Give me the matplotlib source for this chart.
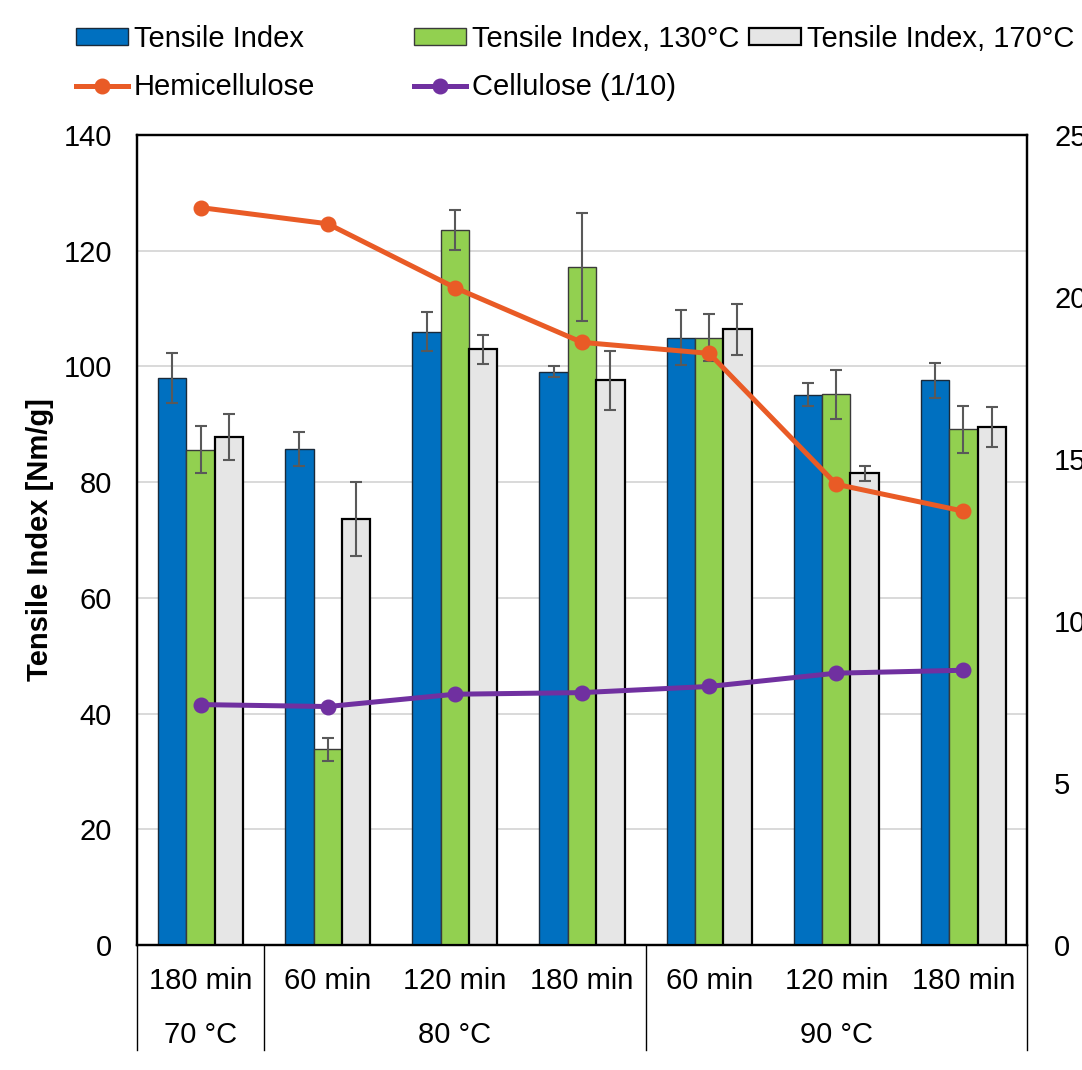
import numpy as np
import matplotlib
matplotlib.use("Agg")
import matplotlib.pyplot as plt
from matplotlib.lines import Line2D
from matplotlib.patches import Patch

plt.rcParams['font.family'] = ['Liberation Sans', 'DejaVu Sans']

# Data
times = ["180 min", "60 min", "120 min", "180 min", "60 min", "120 min", "180 min"]
temps = ["70 °C", "80 °C", "90 °C"]
temp_spans = [(0, 1), (1, 4), (4, 7)]   # category index ranges for each temperature

tensile = [98.0, 85.7, 106.0, 99.1, 105.0, 95.1, 97.6]
tensile_err = [4.3, 2.9, 3.4, 1.0, 4.8, 2.0, 3.0]
tensile_130 = [85.6, 33.8, 123.6, 117.2, 105.0, 95.2, 89.1]
tensile_130_err = [4.1, 2.0, 3.5, 9.3, 4.1, 4.2, 4.1]
tensile_170 = [87.8, 73.6, 103.0, 97.6, 106.4, 81.5, 89.5]
tensile_170_err = [4.0, 6.4, 2.5, 5.1, 4.4, 1.3, 3.5]

hemicellulose = [22.76, 22.26, 20.29, 18.60, 18.26, 14.22, 13.39]
cellulose = [7.42, 7.36, 7.74, 7.79, 7.98, 8.39, 8.48]

BLUE = "#0070C0"
GREEN = "#92D050"
GRAY = "#E6E6E6"
ORANGE = "#E95B26"
PURPLE = "#7030A0"
ERR = "#595959"
FS = 21

fig = plt.figure(figsize=(10.82, 10.70), dpi=100)
ax = fig.add_axes([137/1082, 125/1070, 890/1082, 810/1070])
ax2 = ax.twinx()

x = np.arange(len(times))
w = 0.223
errkw = dict(ecolor=ERR, elinewidth=1.5, capsize=4.5, capthick=1.5)

ax.bar(x - w, tensile, w, color=BLUE, edgecolor="#1a2a3a", linewidth=1.0,
       yerr=tensile_err, error_kw=errkw, zorder=3)
ax.bar(x, tensile_130, w, color=GREEN, edgecolor="#3a3a3a", linewidth=1.0,
       yerr=tensile_130_err, error_kw=errkw, zorder=3)
ax.bar(x + w, tensile_170, w, color=GRAY, edgecolor="black", linewidth=1.6,
       yerr=tensile_170_err, error_kw=errkw, zorder=3)

ax2.plot(x, hemicellulose, color=ORANGE, lw=3.6, marker="o", ms=10.5, zorder=4)
ax2.plot(x, cellulose, color=PURPLE, lw=3.6, marker="o", ms=10.5, zorder=4)

ax.set_xlim(-0.5, len(times) - 0.5)
ax.set_ylim(0, 140)
ax.set_yticks(np.arange(0, 141, 20))
ax2.set_ylim(0, 25)
ax2.set_yticks(np.arange(0, 26, 5))

ax.grid(axis="y", color="#d9d9d9", lw=1.4, zorder=0)
ax.set_axisbelow(True)
ax.set_xticks([])
ax.tick_params(axis="y", length=0, labelsize=FS, pad=18)
ax2.tick_params(axis="y", length=0, labelsize=FS, pad=19.5)
for a in (ax, ax2):
    for s in a.spines.values():
        s.set_linewidth(1.6)
        s.set_color("black")

ax.set_ylabel("Tensile Index [Nm/g]", fontsize=FS, fontweight="bold")
ax.yaxis.set_label_coords(-0.093, 0.5)

# Two-level category axis
trans = ax.get_xaxis_transform()
for i, t in enumerate(times):
    ax.text(i, -0.044, t, transform=trans, ha="center", va="center",
            fontsize=FS, clip_on=False)
for lab, (a, b) in zip(temps, temp_spans):
    ax.text((a + b - 1) / 2, -0.111, lab, transform=trans, ha="center",
            va="center", fontsize=FS, clip_on=False)
for b in [0, 1, 4, 7]:
    ax.plot([b - 0.5, b - 0.5], [0, -0.13], transform=trans, color="black",
            lw=1.0, clip_on=False)

# Legend, laid out in three columns like the reference
h_ti = Patch(facecolor=BLUE, edgecolor="#1a2a3a", lw=1.0)
h_130 = Patch(facecolor=GREEN, edgecolor="#3a3a3a", lw=1.0)
h_170 = Patch(facecolor=GRAY, edgecolor="black", lw=1.6)
h_hemi = Line2D([], [], color=ORANGE, lw=3.6, marker="o", ms=10.5)
h_cell = Line2D([], [], color=PURPLE, lw=3.6, marker="o", ms=10.5)

legkw = dict(loc="upper left", frameon=False, fontsize=FS, handlelength=1.78,
             handleheight=0.5, handletextpad=0.2, labelspacing=0.69,
             borderaxespad=0, borderpad=0)
cols = [([h_ti, h_hemi], ["Tensile Index", "Hemicellulose"], 76),
        ([h_130, h_cell], ["Tensile Index, 130°C", "Cellulose (1/10)"], 414),
        ([h_170], ["Tensile Index, 170°C"], 749)]
for hs, ls, px in cols:
    fig.legend(hs, ls, bbox_to_anchor=(px / 1082, 1 - 25 / 1070), **legkw)

fig.savefig("out.png", dpi=100)
